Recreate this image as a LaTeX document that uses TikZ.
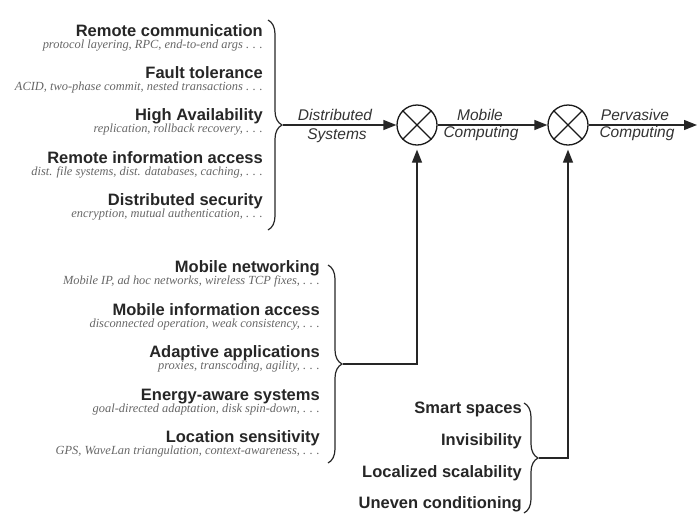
\documentclass[tikz,border=0pt]{standalone}
\usepackage{fontspec}
\setmainfont{Liberation Serif}
\setsansfont{Liberation Sans}
\usetikzlibrary{arrows.meta,decorations.pathreplacing}
% spaced ellipsis as in classic typesetting
\newcommand{\spdots}{.\kern.3em.\kern.3em.}
\begin{document}
\begin{tikzpicture}[x=1pt,y=-1pt,
  title/.style={anchor=base east, inner sep=0pt, text=black!85,
    font=\sffamily\bfseries\fontsize{16.5}{18}\selectfont},
  subtitle/.style={anchor=base east, inner sep=0pt, text=black!60,
    font=\rmfamily\itshape\fontsize{12.4}{14}\selectfont},
  lab/.style={anchor=base, inner sep=0pt, text=black!80,
    font=\sffamily\itshape\fontsize{15.5}{17}\selectfont},
  mixer/.style={circle, draw=black!90, line width=1.3pt, minimum size=40pt, inner sep=0pt},
  arr/.style={draw=black!85, line width=1.3pt, -{Triangle[length=13pt,width=10pt]}},
  grp/.style={draw=black!85, line width=1.2pt, decorate,
    decoration={brace, amplitude=14pt}}]
\useasboundingbox (0,0) rectangle (698,515);

% distributed systems topics
\node[title]    (rc)  at (263,36)  {Remote communication};
\node[subtitle] (rcs) at (263,48)  {protocol layering, RPC, end-to-end args \spdots};
\node[title]    (ft)  at (263,78)  {Fault tolerance};
\node[subtitle] (fts) at (263,90)  {ACID, two-phase commit, nested transactions \spdots};
\node[title]    (ha)  at (263,120) {High Availability};
\node[subtitle] (has) at (263,132) {replication, rollback recovery, \spdots};
\node[title]    (ri)  at (263,163) {Remote information access};
\node[subtitle] (ris) at (263,175) {dist. file systems, dist. databases, caching, \spdots};
\node[title]    (dsec)  at (263,205) {Distributed security};
\node[subtitle] (dsecs) at (263,217) {encryption, mutual authentication, \spdots};
\draw[grp] (268,20) -- (268,230);
\coordinate (t1) at (283,125);

% mobile computing topics
\node[title]    (mn)  at (320,272) {Mobile networking};
\node[subtitle] (mns) at (320,284) {Mobile IP, ad hoc networks, wireless TCP fixes, \spdots};
\node[title]    (mi)  at (320,315) {Mobile information access};
\node[subtitle] (mis) at (320,327) {disconnected operation, weak consistency, \spdots};
\node[title]    (aa)  at (320,357) {Adaptive applications};
\node[subtitle] (aas) at (320,369) {proxies, transcoding, agility, \spdots};
\node[title]    (ea)  at (320,400) {Energy-aware systems};
\node[subtitle] (eas) at (320,412) {goal-directed adaptation, disk spin-down, \spdots};
\node[title]    (ls)  at (320,442) {Location sensitivity};
\node[subtitle] (lss) at (320,454) {GPS, WaveLan triangulation, context-awareness, \spdots};
\draw[grp] (328,265) -- (328,463);
\coordinate (t2) at (343,364);

% pervasive computing topics
\node[title] (ss) at (522,413) {Smart spaces};
\node[title] (iv) at (522,445) {Invisibility};
\node[title] (lsc) at (522,477) {Localized scalability};
\node[title] (uc) at (522,508) {Uneven conditioning};
\draw[grp] (524,403) -- (524,513);
\coordinate (t3) at (539,458);

% mixers
\node[mixer] (m1) at (417,125) {};
\node[mixer] (m2) at (568,125) {};
\draw[line width=1.3pt, black!90] (m1.north west) -- (m1.south east) (m1.north east) -- (m1.south west);
\draw[line width=1.3pt, black!90] (m2.north west) -- (m2.south east) (m2.north east) -- (m2.south west);
\coordinate (out) at (697,125);

% flow
\draw[arr] (t1) -- (m1.west);
\draw[arr] (m1.east) -- (m2.west);
\draw[arr] (m2.east) -- (out);
\draw[arr, shorten >=4pt] (t2) -| (m1.south);
\draw[arr, shorten >=4pt] (t3) -| (m2.south);

% flow labels
\node[lab] (l1a) at (335,120) {Distributed};
\node[lab] (l1b) at (337,139) {Systems};
\node[lab] (l2a) at (480,120) {Mobile};
\node[lab] (l2b) at (481,137) {Computing};
\node[lab] (l3a) at (635,120) {Pervasive};
\node[lab] (l3b) at (637,137) {Computing};
\end{tikzpicture}
\end{document}
